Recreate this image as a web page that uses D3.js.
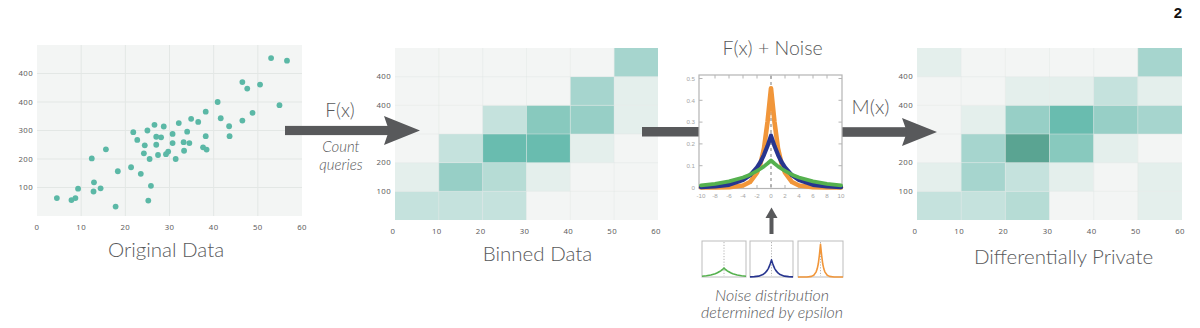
<!DOCTYPE html>
<html>
<head>
<meta charset="utf-8">
<script src="https://cdn.jsdelivr.net/npm/d3@7"></script>
<style>
  html, body { margin: 0; padding: 0; background: #ffffff; }
  svg { display: block; }
  .tick-label { font-family: "Noto Sans", "DejaVu Sans", sans-serif; font-size: 7.8px; fill: #5f6062; letter-spacing: 0.4px; }
  .title { font-family: Lato, "Open Sans", sans-serif; font-weight: 300; fill: #58595b; }
  .ital { font-family: Lato, "Open Sans", sans-serif; font-weight: 300; font-style: italic; fill: #58595b; }
</style>
</head>
<body>
<svg id="chart" width="1200" height="328"></svg>
<script>
// ---------------- DATA ----------------
// Original (scatter) data: x values and y values
const scatterX = [4.5, 7.8, 8.7, 9.3, 12.4, 12.9, 12.8, 14.4, 15.6, 17.8, 18.3, 21.3, 21.8, 22.7, 23.5, 24.2, 24.4, 25.0, 25.5, 25.8,
  25.2, 26.6, 27.0, 27.0, 27.4, 28.1, 28.7, 29.2, 29.7, 30.7, 30.7, 31.4, 32.1, 33.2, 33.3, 34.0, 34.5, 34.9, 36.5, 37.6,
  38.2, 38.2, 38.4, 40.9, 41.6, 43.5, 43.6, 46.5, 46.5, 47.6, 48.8, 50.5, 53.0, 54.9, 56.6];
const scatterY = [63, 56, 63, 96, 202, 118, 86, 97, 234, 33, 157, 171, 294, 267, 148, 220, 248, 300, 200, 106,
  54, 320, 278, 250, 214, 276, 314, 217, 226, 288, 256, 200, 326, 259, 229, 296, 256, 341, 330, 241,
  280, 366, 233, 400, 343, 315, 280, 335, 470, 447, 362, 461, 554, 389, 545];

// Axis ticks and their (as printed) labels
const scatterXTicks = [0, 10, 20, 30, 40, 50, 60];
const scatterYTicks = [100, 200, 300, 400, 500];
const scatterYLabels = ["100", "200", "300", "400", "400"];
const heatXTicks = [0, 10, 20, 30, 40, 50, 60];
const heatYTicks = [100, 200, 400, 500];
const heatYLabels = ["100", "200", "400", "400"];

// Bin edges (x and y)
const binXEdges = [0, 10, 20, 30, 40, 50, 60];
const binYEdges = [0, 100, 200, 300, 400, 500, 600];

// Binned counts: rows from bottom (y 0-100) to top (y 500-600), columns x 0-10 ... 50-60
const binnedCounts = [
  [3, 3, 3, 0, 0, 0],
  [1, 6, 4, 1, 0, 0],
  [0, 3, 9, 9, 1, 0],
  [0, 0, 3, 7, 6, 1],
  [0, 0, 0, 0, 5, 1],
  [0, 0, 0, 0, 0, 5]
];
// Differentially private (noisy) counts
const privateCounts = [
  [3, 3, 4, 0, 0, 1],
  [1, 5, 3, 1, 0, 1],
  [0, 5, 11, 7, 1, 0],
  [0, 1, 6, 9, 6, 5],
  [0, 0, 1, 1, 3, 1],
  [1, 0, 0, 0, 0, 5]
];

// Noise distributions
const noiseX      = [-10, -8, -6, -4, -3, -2, -1.5, -1, -0.5, 0, 0.5, 1, 1.5, 2, 3, 4, 6, 8, 10];
const noiseGreen  = [0.010, 0.017, 0.028, 0.046, 0.059, 0.076, 0.086, 0.097, 0.110, 0.124, 0.110, 0.097, 0.086, 0.076, 0.059, 0.046, 0.028, 0.017, 0.010];
const noiseBlue   = [0.002, 0.005, 0.012, 0.034, 0.056, 0.092, 0.117, 0.150, 0.190, 0.238, 0.190, 0.150, 0.117, 0.092, 0.056, 0.034, 0.012, 0.005, 0.002];
const noiseOrange = [0.000, 0.000, 0.001, 0.009, 0.025, 0.068, 0.110, 0.180, 0.300, 0.455, 0.300, 0.180, 0.110, 0.068, 0.025, 0.009, 0.001, 0.000, 0.000];
const noiseXTicks = [-10, -8, -6, -4, -2, 0, 2, 4, 6, 8, 10];
const noiseYTicks = [0, 0.1, 0.2, 0.3, 0.4, 0.5];
const noiseYLabels = ["0", "0.1", "0.2", "0.3", "0.4", "0.5"];

// ---------------- DRAWING ----------------
const svg = d3.select("#chart");
svg.append("rect").attr("width", 1200).attr("height", 328).attr("fill", "#ffffff");

const PANEL_BG = "#f3f5f4";
const GRID = "#e3e7e5";
const ARROW = "#58595b";
const TEAL = "#5bb8a6";

const heatColor = d3.scaleLinear().domain([0, 9, 11]).range(["#f3f5f4", "#69bcaf", "#5aa492"]).clamp(true);

// ---- Scatter ----
const xS = d3.scaleLinear().domain([0, 60]).range([37, 302]);
const yS = d3.scaleLinear().domain([0, 600]).range([216, 45]);
const gS = svg.append("g");
gS.append("rect").attr("x", xS(0)).attr("y", yS(600)).attr("width", xS(60) - xS(0)).attr("height", yS(0) - yS(600)).attr("fill", PANEL_BG);
gS.selectAll("line.vx").data(scatterXTicks.slice(1, -1)).join("line")
  .attr("x1", d => xS(d)).attr("x2", d => xS(d)).attr("y1", yS(600)).attr("y2", yS(0))
  .attr("stroke", GRID).attr("stroke-width", 1);
gS.selectAll("line.hy").data(scatterYTicks).join("line")
  .attr("y1", d => yS(d)).attr("y2", d => yS(d)).attr("x1", xS(0)).attr("x2", xS(60))
  .attr("stroke", GRID).attr("stroke-width", 1);
gS.selectAll("circle").data(scatterX.map((x, i) => [x, scatterY[i]])).join("circle")
  .attr("cx", d => xS(d[0])).attr("cy", d => yS(d[1])).attr("r", 2.9).attr("fill", TEAL);
gS.selectAll("text.xl").data(scatterXTicks).join("text").attr("class", "tick-label")
  .attr("x", d => xS(d)).attr("y", 230).attr("text-anchor", "middle").text(d => d);
gS.selectAll("text.yl").data(scatterYTicks).join("text").attr("class", "tick-label")
  .attr("x", xS(0) - 4).attr("y", d => yS(d) + 2.7).attr("text-anchor", "end").text((d, i) => scatterYLabels[i]);

// ---- Heatmap helper ----
function heatmap(counts, x0, x1) {
  const x = d3.scaleLinear().domain([0, 60]).range([x0, x1]);
  const y = d3.scaleLinear().domain([0, 600]).range([220, 48]);
  const g = svg.append("g");
  const cells = [];
  counts.forEach((row, r) => row.forEach((v, c) => cells.push({ r, c, v })));
  g.selectAll("rect.cell").data(cells).join("rect")
    .attr("x", d => x(binXEdges[d.c])).attr("width", d => x(binXEdges[d.c + 1]) - x(binXEdges[d.c]))
    .attr("y", d => y(binYEdges[d.r + 1])).attr("height", d => y(binYEdges[d.r]) - y(binYEdges[d.r + 1]))
    .attr("fill", d => heatColor(d.v));
  g.selectAll("line.gx").data(binXEdges.slice(1, -1)).join("line")
    .attr("x1", d => x(d)).attr("x2", d => x(d)).attr("y1", y(600)).attr("y2", y(0))
    .attr("stroke", "#dfe6e3").attr("stroke-opacity", 0.6).attr("stroke-width", 0.8);
  g.selectAll("line.gy").data(binYEdges.slice(1, -1)).join("line")
    .attr("y1", d => y(d)).attr("y2", d => y(d)).attr("x1", x(0)).attr("x2", x(60))
    .attr("stroke", "#dfe6e3").attr("stroke-opacity", 0.6).attr("stroke-width", 0.8);
  g.selectAll("text.xl").data(heatXTicks).join("text").attr("class", "tick-label")
    .attr("x", d => x(d) - 2).attr("y", 234).attr("text-anchor", "middle").text(d => d);
  g.selectAll("text.yl").data(heatYTicks).join("text").attr("class", "tick-label")
    .attr("x", x(0) - 4).attr("y", d => y(d) + 2.7).attr("text-anchor", "end").text((d, i) => heatYLabels[i]);
  return { x, y };
}

const hb = heatmap(binnedCounts, 395, 658);
const hp = heatmap(privateCounts, 917, 1182);

// ---- Arrows (drawn on top of the heatmaps) ----
function arrow(xStart, xHeadBase, xTip, yc, shaftHalf, headHalf) {
  svg.append("rect").attr("x", xStart).attr("y", yc - shaftHalf).attr("width", xHeadBase + 6 - xStart).attr("height", shaftHalf * 2).attr("fill", ARROW);
  svg.append("path").attr("d", d3.line()([[xHeadBase, yc - headHalf], [xTip, yc], [xHeadBase, yc + headHalf], [xHeadBase + 5, yc]]) + "Z").attr("fill", ARROW);
}
arrow(285, 384, 420, 130.5, 4.6, 14.5);
// middle connector (slides under the noise chart)
svg.append("rect").attr("x", 642).attr("y", 127).attr("width", 60).attr("height", 9.5).attr("fill", ARROW);
arrow(838, 902, 937, 132, 4.8, 14);

// ---- Noise chart ----
const xN = d3.scaleLinear().domain([-10, 10]).range([701, 841]);
const yN = d3.scaleLinear().domain([0, 0.5]).range([187.5, 78.5]);
const gN = svg.append("g");
gN.append("rect").attr("x", 699).attr("y", 75).attr("width", 143).attr("height", 113.5)
  .attr("fill", "#ffffff").attr("stroke", "#b4b4b4").attr("stroke-width", 1.2);
// inward ticks
gN.selectAll("line.tt").data(noiseXTicks.slice(1, -1)).join("line")
  .attr("x1", d => xN(d)).attr("x2", d => xN(d)).attr("y1", 75).attr("y2", 78.5).attr("stroke", "#b4b4b4");
gN.selectAll("line.bt").data(noiseXTicks.slice(1, -1)).join("line")
  .attr("x1", d => xN(d)).attr("x2", d => xN(d)).attr("y1", 188.5).attr("y2", 185).attr("stroke", "#b4b4b4");
gN.selectAll("line.lt").data(noiseYTicks.slice(1)).join("line")
  .attr("x1", 699).attr("x2", 702.5).attr("y1", d => yN(d)).attr("y2", d => yN(d)).attr("stroke", "#b4b4b4");
gN.selectAll("line.rt").data(noiseYTicks.slice(1)).join("line")
  .attr("x1", 842).attr("x2", 838.5).attr("y1", d => yN(d)).attr("y2", d => yN(d)).attr("stroke", "#b4b4b4");
gN.append("line").attr("x1", xN(0)).attr("x2", xN(0)).attr("y1", 76).attr("y2", 188)
  .attr("stroke", "#9a9a9a").attr("stroke-width", 1.3).attr("stroke-dasharray", "3,3");
const lineN = d3.line().x(d => xN(d[0])).y(d => yN(d[1]));
[[noiseOrange, "#f1963a", 4.6], [noiseBlue, "#27358f", 4.2], [noiseGreen, "#55b14e", 3.8]].forEach(([vals, col, w]) => {
  gN.append("path").attr("d", lineN(noiseX.map((x, i) => [x, vals[i]])))
    .attr("fill", "none").attr("stroke", col).attr("stroke-width", w)
    .attr("stroke-linejoin", "round").attr("stroke-linecap", "round");
});
gN.selectAll("text.xl").data(noiseXTicks).join("text")
  .attr("x", d => xN(d)).attr("y", 198).attr("text-anchor", "middle")
  .attr("font-family", "Liberation Sans, Arial, sans-serif").attr("font-size", 6.2).attr("fill", "#a5a5a5").text(d => d);
gN.selectAll("text.yl").data(noiseYTicks).join("text")
  .attr("x", 695).attr("y", d => yN(d) + 2.2).attr("text-anchor", "end")
  .attr("font-family", "Liberation Sans, Arial, sans-serif").attr("font-size", 6.2).attr("fill", "#a5a5a5").text((d, i) => noiseYLabels[i]);

// ---- Small epsilon boxes ----
const boxes = [[702, 746, noiseGreen, "#55b14e"], [750, 793, noiseBlue, "#27358f"], [798, 843, noiseOrange, "#f1963a"]];
boxes.forEach(([bx0, bx1, vals, col]) => {
  const bx = d3.scaleLinear().domain([-10, 10]).range([bx0, bx1]);
  const by = d3.scaleLinear().domain([0, 0.5]).range([277, 241]);
  svg.append("rect").attr("x", bx0).attr("y", 241).attr("width", bx1 - bx0).attr("height", 36)
    .attr("fill", "#ffffff").attr("stroke", "#bdbdbd").attr("stroke-width", 1);
  svg.append("line").attr("x1", bx(0)).attr("x2", bx(0)).attr("y1", 242).attr("y2", 276)
    .attr("stroke", "#a0a0a0").attr("stroke-width", 0.8).attr("stroke-dasharray", "1.2,1.6");
  svg.append("path").attr("d", d3.line().x(d => bx(d[0])).y(d => by(d[1]))(noiseX.map((x, i) => [x, vals[i]])))
    .attr("fill", "none").attr("stroke", col).attr("stroke-width", 1.6).attr("stroke-linejoin", "round");
});
// up arrow
svg.append("rect").attr("x", 769.5).attr("y", 215).attr("width", 4).attr("height", 19).attr("fill", ARROW);
svg.append("path").attr("d", "M765.5,218 L771.5,207.5 L777.5,218 Z").attr("fill", ARROW);

// ---- Texts ----
svg.append("text").attr("class", "title").attr("x", 166).attr("y", 257).attr("text-anchor", "middle").attr("font-size", 20.5).text("Original Data");
svg.append("text").attr("class", "title").attr("x", 537.5).attr("y", 261).attr("text-anchor", "middle").attr("font-size", 20.5).text("Binned Data");
svg.append("text").attr("class", "title").attr("x", 1063.5).attr("y", 264).attr("text-anchor", "middle").attr("font-size", 20.5).text("Differentially Private");
svg.append("text").attr("class", "title").attr("x", 772.5).attr("y", 55).attr("text-anchor", "middle").attr("font-size", 19.5).text("F(x) + Noise");
svg.append("text").attr("class", "title").attr("x", 340).attr("y", 117).attr("text-anchor", "middle").attr("font-size", 19).text("F(x)");
svg.append("text").attr("class", "title").attr("x", 870.5).attr("y", 114).attr("text-anchor", "middle").attr("font-size", 20).text("M(x)");
svg.append("text").attr("class", "ital").attr("x", 341).attr("y", 152).attr("text-anchor", "middle").attr("font-size", 15).text("Count");
svg.append("text").attr("class", "ital").attr("x", 341).attr("y", 170).attr("text-anchor", "middle").attr("font-size", 15).text("queries");
svg.append("text").attr("class", "ital").attr("x", 772).attr("y", 301).attr("text-anchor", "middle").attr("font-size", 16).text("Noise distribution");
svg.append("text").attr("class", "ital").attr("x", 772).attr("y", 318).attr("text-anchor", "middle").attr("font-size", 16).text("determined by epsilon");
svg.append("text").attr("x", 1178).attr("y", 18).attr("text-anchor", "middle")
  .attr("font-family", "Liberation Sans, Arial, sans-serif").attr("font-weight", "bold").attr("font-size", 15).attr("fill", "#111").text("2");
</script>
</body>
</html>
